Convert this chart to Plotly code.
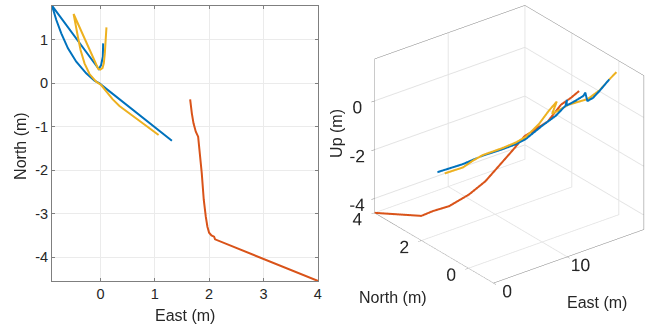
import plotly.graph_objects as go

# ---------------- 2D data (East, North) ----------------
blue_east = [1.315, 0.092, -0.018, -0.110, -0.263, -0.446, -0.599, -0.722, -0.813, -0.893,
             -0.031, 0.012, 0.043, 0.049]
blue_north = [-1.323, -0.099, -0.008, 0.054, 0.222, 0.489, 0.795, 1.139, 1.445, 1.774,
              0.321, 0.413, 0.604, 0.910]

red_east = [4.006, 2.183, 2.110, 2.092, 2.043, 2.000, 1.969, 1.939, 1.902, 1.865,
            1.829, 1.798, 1.755, 1.713, 1.682, 1.651]
red_north = [-4.541, -3.631, -3.586, -3.524, -3.494, -3.433, -3.295, -3.066, -2.683, -2.072,
             -1.537, -1.231, -1.116, -0.925, -0.696, -0.375]

yellow_east = [1.070, 0.349, 0.226, 0.104, 0.012, -0.080, -0.202, -0.294, -0.367, -0.416,
               -0.459, -0.495, -0.043, -0.006, 0.037, 0.061, 0.080, 0.092, 0.110]
yellow_north = [-1.193, -0.528, -0.375, -0.176, -0.046, 0.031, 0.206, 0.451, 0.757, 1.063,
                1.368, 1.583, 0.329, 0.306, 0.344, 0.451, 0.680, 0.986, 1.277]

# ---------------- 3D data (East, North, Up) ----------------
blue3_e = [0.0, 2.43, 4.16, 5.9, 7.07, 7.77, 9.05, 9.92, 10.32, 10.5, 10.6, 12.6, 14.5, 14.9,
           15.5, 16.6, 17.7, 19.24]
blue3_n = [1.32, 1.0, 0.7, 0.4, 0.2, 0.0, -0.3, -0.6, -0.9, -0.9, -0.85, -0.6, -0.35, -0.3,
           -0.2, -0.1, -0.02, 0.04]
blue3_u = [-1.40, -1.15, -0.82, -0.57, -0.38, -0.13, 0.45, 0.93, 1.48, 1.70, 1.42, 1.26, 1.12,
           1.18, 0.71, 0.67, 0.78, 1.06]

red3_e = [0.0, 0.59, 1.85, 3.89, 6.4, 8.5, 10.2, 11.9, 13.5, 16.5, 18.1, 19.3, 20.3]
red3_n = [4.0, 2.19, 2.1, 2.04, 1.99, 1.95, 1.92, 1.89, 1.85, 1.8, 1.74, 1.7, 1.66]
red3_u = [-4.59, -3.75, -3.64, -3.62, -3.39, -3.05, -2.6, -2.15, -1.68, -1.37, -0.82, -0.65,
          -0.45]

yellow3_e = [0.2, 1.65, 2.21, 2.92, 4.97, 6.29, 7.31, 8.77, 9.64, 10.4, 10.4, 13.5, 16.3, 18.0,
             19.36, 20.4]
yellow3_n = [1.07, 0.75, 0.5, 0.3, 0.1, -0.05, -0.15, -0.25, -0.4, -0.5, -0.3, -0.02, 0.03,
             0.06, 0.08, 0.1]
yellow3_u = [-1.33, -1.06, -0.70, -0.43, -0.25, -0.08, 0.10, 0.52, 1.06, 1.41, 0.79, 0.67,
             0.58, 0.74, 1.02, 1.2]

x_ticks = [0, 1, 2, 3, 4]
y_ticks = [-4, -3, -2, -1, 0, 1]
e3_ticks = [0, 10]
n3_ticks = [0, 2, 4]
u3_ticks = [-4, -2, 0]


def labels(vals):
    return [str(v) for v in vals]  # ASCII hyphen-minus like the original


BLUE = "#0072BD"
RED = "#D95319"
YELLOW = "#EDB120"
FONT = "Liberation Sans"
TXT = "#262626"
AXC = "#7f7f7f"

fig = go.Figure()
for xs, ys, c in [(blue_east, blue_north, BLUE), (red_east, red_north, RED),
                  (yellow_east, yellow_north, YELLOW)]:
    fig.add_trace(go.Scatter(x=xs, y=ys, mode="lines", line=dict(color=c, width=2),
                             showlegend=False, xaxis="x", yaxis="y"))

for xs, ys, zs, c in [(blue3_e, blue3_n, blue3_u, BLUE), (red3_e, red3_n, red3_u, RED),
                      (yellow3_e, yellow3_n, yellow3_u, YELLOW)]:
    fig.add_trace(go.Scatter3d(x=xs, y=ys, z=zs, mode="lines", line=dict(color=c, width=4),
                               showlegend=False, scene="scene"))

ax2d = dict(showline=True, mirror="ticks", linecolor=AXC, linewidth=1,
            ticks="inside", ticklen=3, tickcolor=AXC, showgrid=True,
            gridcolor="#ebebeb", zeroline=False,
            tickfont=dict(family=FONT, size=14.5, color=TXT))

ax3d = dict(showbackground=False, showgrid=True, gridcolor="#e3e3e3", showline=True,
            linecolor=AXC, linewidth=1, zeroline=False, showspikes=False,
            ticks="outside", ticklen=4, tickcolor=AXC, mirror=True, tickangle=0,
            tickfont=dict(family=FONT, size=14.5, color=TXT), title=dict(text=""))

lab = dict(xref="paper", yref="paper", showarrow=False,
           font=dict(family=FONT, size=16, color=TXT), xanchor="center", yanchor="middle")

cx, cy, cz = -0.1548, 0.0425, -0.1188
vx, vy, vz = -0.946, -1.218, 0.796

fig.update_layout(
    width=649, height=333,
    margin=dict(l=0, r=0, t=0, b=0),
    paper_bgcolor="white", plot_bgcolor="white",
    font=dict(family=FONT, color=TXT),
    xaxis=dict(domain=[0.0806, 0.4931], range=[-0.893, 4.006], tickvals=x_ticks,
               ticktext=labels(x_ticks), **ax2d),
    yaxis=dict(domain=[0.1562, 0.9829], range=[-4.541, 1.774], tickvals=y_ticks,
               ticktext=labels(y_ticks), **ax2d),
    scene=dict(
        domain=dict(x=[0.5, 1.0], y=[0.0, 1.0]),
        xaxis=dict(range=[0, 20.4], tickvals=e3_ticks, ticktext=labels(e3_ticks), **ax3d),
        yaxis=dict(range=[-1.07, 4.0], tickvals=n3_ticks, ticktext=labels(n3_ticks), **ax3d),
        zaxis=dict(range=[-4.59, 1.72], tickvals=u3_ticks, ticktext=labels(u3_ticks), **ax3d),
        aspectmode="manual", aspectratio=dict(x=1.144, y=1.165, z=1.040),
        camera=dict(eye=dict(x=cx + vx, y=cy + vy, z=cz + vz),
                    center=dict(x=cx, y=cy, z=cz),
                    up=dict(x=0, y=0, z=1), projection=dict(type="orthographic")),
        bgcolor="white",
    ),
    annotations=[
        dict(text="East (m)", x=0.2869, y=(333 - 315) / 333, **lab),
        dict(text="North (m)", x=20 / 649, y=(333 - 146) / 333, textangle=-90, **lab),
        dict(text="Up (m)", x=338 / 649, y=(333 - 133) / 333, textangle=-90, **lab),
        dict(text="North (m)", x=395 / 649, y=(333 - 297.7) / 333, **lab),
        dict(text="East (m)", x=600.7 / 649, y=(333 - 302.7) / 333, **lab),
    ],
)

fig.write_html("out.html")
